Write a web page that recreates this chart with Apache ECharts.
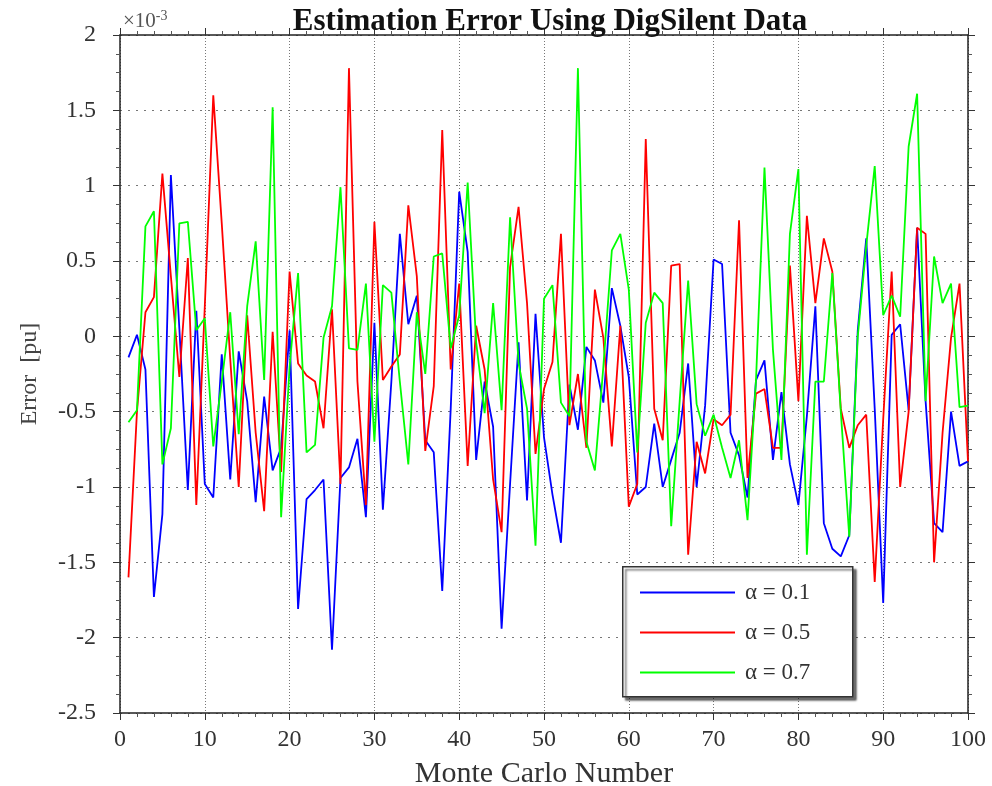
<!DOCTYPE html>
<html>
<head>
<meta charset="utf-8">
<title>Estimation Error Using DigSilent Data</title>
<script src="https://cdn.jsdelivr.net/npm/echarts@6/dist/echarts.min.js"></script>
<style>
  html, body { margin: 0; padding: 0; background: #ffffff; }
  #chart { width: 992px; height: 786px; }
</style>
</head>
<body>
<div id="chart"></div>
<script>
// Monte Carlo run index (1..100)
const runs = [];
for (let i = 1; i <= 100; i++) runs.push(i);

// Estimation error for each run, in units of 1e-3 pu
const errAlpha01 = [
  -0.14, 0.01, -0.22, -1.73, -1.18, 1.07, 0.05, -1.02, 0.17, -0.98,
  -1.07, -0.12, -0.95, -0.10, -0.43, -1.10, -0.40, -0.89, -0.74, 0.04,
  -1.81, -1.08, -1.02, -0.95, -2.08, -0.94, -0.87, -0.68, -1.20, 0.09,
  -1.15, -0.30, 0.68, 0.08, 0.27, -0.69, -0.77, -1.69, -0.48, 0.96,
  0.56, -0.82, -0.30, -0.60, -1.94, -0.98, -0.04, -1.09, 0.15, -0.67,
  -1.05, -1.37, -0.32, -0.62, -0.07, -0.16, -0.44, 0.32, 0.07, -0.27,
  -1.05, -1.00, -0.58, -1.00, -0.82, -0.64, -0.18, -1.00, -0.46, 0.51,
  0.48, -0.64, -0.79, -1.07, -0.29, -0.16, -0.82, -0.37, -0.85, -1.12,
  -0.53, 0.20, -1.24, -1.41, -1.46, -1.32, 0.04, 0.65, -0.48, -1.77,
  0.01, 0.08, -0.49, 0.72, -0.43, -1.24, -1.30, -0.50, -0.86, -0.83
];
const errAlpha05 = [
  -1.60, -0.50, 0.16, 0.26, 1.08, 0.40, -0.27, 0.52, -1.12, 0.20,
  1.60, 0.75, -0.15, -1.00, 0.14, -0.64, -1.16, 0.03, -0.90, 0.43,
  -0.18, -0.26, -0.30, -0.61, 0.18, -0.98, 1.78, -0.30, -1.12, 0.76,
  -0.29, -0.20, -0.12, 0.87, 0.40, -0.76, -0.33, 1.37, -0.22, 0.35,
  -0.86, 0.07, -0.22, -0.95, -1.30, 0.46, 0.86, 0.22, -0.78, -0.35,
  -0.17, 0.68, -0.59, -0.25, -0.74, 0.31, -0.01, -0.73, 0.07, -1.13,
  -0.98, 1.31, -0.48, -0.69, 0.47, 0.48, -1.45, -0.70, -0.91, -0.55,
  -0.59, -0.52, 0.77, -0.94, -0.38, -0.35, -0.74, -0.74, 0.47, -0.43,
  0.80, 0.22, 0.65, 0.43, -0.48, -0.74, -0.59, -0.52, -1.63, -0.55,
  0.43, -1.00, -0.50, 0.72, 0.68, -1.50, -0.64, -0.01, 0.35, -0.83
];
const errAlpha07 = [
  -0.57, -0.49, 0.73, 0.83, -0.85, -0.61, 0.75, 0.76, 0.04, 0.12,
  -0.73, -0.30, 0.16, -0.65, 0.20, 0.63, -0.29, 1.52, -1.20, -0.20,
  0.42, -0.77, -0.72, -0.01, 0.20, 0.99, -0.08, -0.09, 0.35, -0.70,
  0.34, 0.29, -0.30, -0.85, 0.16, -0.25, 0.53, 0.55, -0.08, 0.14,
  1.02, -0.04, -0.51, 0.22, -0.49, 0.79, -0.18, -0.48, -1.39, 0.25,
  0.34, -0.44, -0.53, 1.78, -0.70, -0.89, -0.20, 0.57, 0.68, 0.31,
  -0.77, 0.09, 0.29, 0.22, -1.26, -0.43, 0.37, -0.45, -0.66, -0.52,
  -0.74, -0.94, -0.69, -1.22, -0.29, 1.12, -0.09, -0.82, 0.68, 1.11,
  -1.45, -0.30, -0.30, 0.42, -0.50, -1.33, 0.00, 0.60, 1.13, 0.14,
  0.27, 0.13, 1.26, 1.61, -0.43, 0.53, 0.22, 0.35, -0.47, -0.46
];

const seriesNames = ['α = 0.1', 'α = 0.5', 'α = 0.7'];
const seriesColors = ['#0000ff', '#ff0000', '#00ff00'];
const seriesValues = [errAlpha01, errAlpha05, errAlpha07];

const FONT = '"Liberation Serif", "Times New Roman", serif';

function pairs(vals) {
  return runs.map((r, i) => [r, vals[i]]);
}

const tickCommon = { show: true, inside: false, length: 7, lineStyle: { color: '#333', width: 1 } };
const minorCommon = { show: true, length: 4, lineStyle: { color: '#555', width: 1 } };
const lineCommon = { show: true, onZero: false, lineStyle: { color: '#222', width: 1.5 } };

const chart = echarts.init(document.getElementById('chart'), null, { renderer: 'canvas' });

chart.setOption({
  backgroundColor: '#ffffff',
  animation: false,
  title: {
    text: 'Estimation Error Using DigSilent Data',
    left: 545,
    top: 1,
    textAlign: 'center',
    textStyle: { fontFamily: FONT, fontWeight: 'bold', fontSize: 31, color: '#111' }
  },
  grid: { left: 120, right: 24, top: 35, bottom: 73, containLabel: false, outerBoundsMode: 'none' },
  legend: {
    orient: 'vertical',
    left: 640,
    top: 581,
    icon: 'rect',
    itemWidth: 95,
    itemHeight: 2,
    itemGap: 17,
    padding: 0,
    data: seriesNames,
    textStyle: { fontFamily: FONT, fontSize: 23, color: '#333', padding: [0, 0, 0, 5] }
  },
  graphic: [
    {
      type: 'rect',
      left: 622,
      top: 566,
      z: 3,
      shape: { width: 230, height: 130 },
      style: {
        fill: '#ffffff',
        stroke: '#333',
        lineWidth: 1.5,
        shadowColor: 'rgba(0,0,0,0.55)',
        shadowOffsetX: 3,
        shadowOffsetY: 3,
        shadowBlur: 2
      }
    },
    {
      type: 'text',
      left: 123,
      top: 9,
      style: {
        text: '×10{sup|-3}',
        fontFamily: FONT,
        fontSize: 21,
        fill: '#555',
        rich: { sup: { fontFamily: FONT, fontSize: 14, fill: '#555', verticalAlign: 'top', padding: [0, 0, 10, 0] } }
      }
    }
  ],
  xAxis: [
    {
      type: 'value',
      min: 0,
      max: 100,
      interval: 10,
      name: 'Monte Carlo Number',
      nameLocation: 'middle',
      nameGap: 46,
      nameTextStyle: { fontFamily: FONT, fontSize: 30, color: '#333' },
      axisLine: lineCommon,
      axisTick: tickCommon,
      minorTick: Object.assign({ splitNumber: 5 }, minorCommon),
      axisLabel: { fontFamily: FONT, fontSize: 24, color: '#333', margin: 15 },
      splitLine: { show: true, lineStyle: { color: '#777', width: 1, type: [1, 2] } }
    },
    {
      type: 'value',
      position: 'top',
      min: 0,
      max: 100,
      interval: 10,
      axisLine: lineCommon,
      axisTick: tickCommon,
      minorTick: Object.assign({ splitNumber: 5 }, minorCommon),
      axisLabel: { show: false },
      splitLine: { show: false }
    }
  ],
  yAxis: [
    {
      type: 'value',
      min: -2.5,
      max: 2,
      interval: 0.5,
      name: 'Error  [pu]',
      nameLocation: 'middle',
      nameGap: 78,
      nameTextStyle: { fontFamily: FONT, fontSize: 24, color: '#444' },
      axisLine: lineCommon,
      axisTick: tickCommon,
      minorTick: Object.assign({ splitNumber: 4 }, minorCommon),
      axisLabel: { fontFamily: FONT, fontSize: 24, color: '#333', margin: 24 },
      splitLine: { show: true, lineStyle: { color: '#777', width: 1, type: [2, 6] } }
    },
    {
      type: 'value',
      position: 'right',
      min: -2.5,
      max: 2,
      interval: 0.5,
      axisLine: lineCommon,
      axisTick: tickCommon,
      minorTick: Object.assign({ splitNumber: 4 }, minorCommon),
      axisLabel: { show: false },
      splitLine: { show: false }
    }
  ],
  series: seriesValues.map((vals, k) => ({
    name: seriesNames[k],
    type: 'line',
    xAxisIndex: 0,
    yAxisIndex: 0,
    data: pairs(vals),
    symbol: 'none',
    z: 2,
    color: seriesColors[k],
    lineStyle: { color: seriesColors[k], width: 1.8 }
  }))
});
</script>
</body>
</html>
